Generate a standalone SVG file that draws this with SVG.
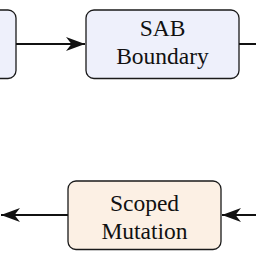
<svg xmlns="http://www.w3.org/2000/svg" width="256" height="255" viewBox="0 0 256 255">
<defs>
<style>
.blue{fill:#eef0fb;stroke:#1a1a1a;stroke-width:1.3}
.tan{fill:#fcf0e4;stroke:#1a1a1a;stroke-width:1.3}
.lbl{font-family:"Liberation Serif","Times New Roman",serif;font-size:23.5px;fill:#111;text-anchor:middle}
.edge{stroke:#111;stroke-width:2;fill:none}
</style>
<marker id="arr" markerUnits="userSpaceOnUse" viewBox="-20 -8 21 16" refX="0" refY="0" markerWidth="21" markerHeight="16" orient="auto">
<path d="M0,0 L-19,-7 L-13.5,0 L-19,7 Z" fill="#111"/>
</marker>
</defs>
<g id="connectors">
<line class="edge" x1="16" y1="44" x2="85" y2="44" marker-end="url(#arr)"/>
<line class="edge" x1="239" y1="44" x2="256" y2="44"/>
<line class="edge" x1="256" y1="215" x2="222" y2="215" marker-end="url(#arr)"/>
<line class="edge" x1="68" y1="215" x2="1" y2="215" marker-end="url(#arr)"/>
</g>
<g id="node-left">
<rect class="blue" x="-60" y="10" width="76" height="68.5" rx="8"/>
</g>
<g id="node-sab">
<rect class="blue" x="86" y="10" width="153" height="68.5" rx="8"/>
<text class="lbl" x="162.5" y="36">SAB</text>
<text class="lbl" x="162.5" y="64">Boundary</text>
</g>
<g id="node-scoped">
<rect class="tan" x="68" y="181" width="153" height="68.5" rx="8"/>
<text class="lbl" x="144.5" y="210.5">Scoped</text>
<text class="lbl" x="144.5" y="238.5">Mutation</text>
</g>
</svg>
